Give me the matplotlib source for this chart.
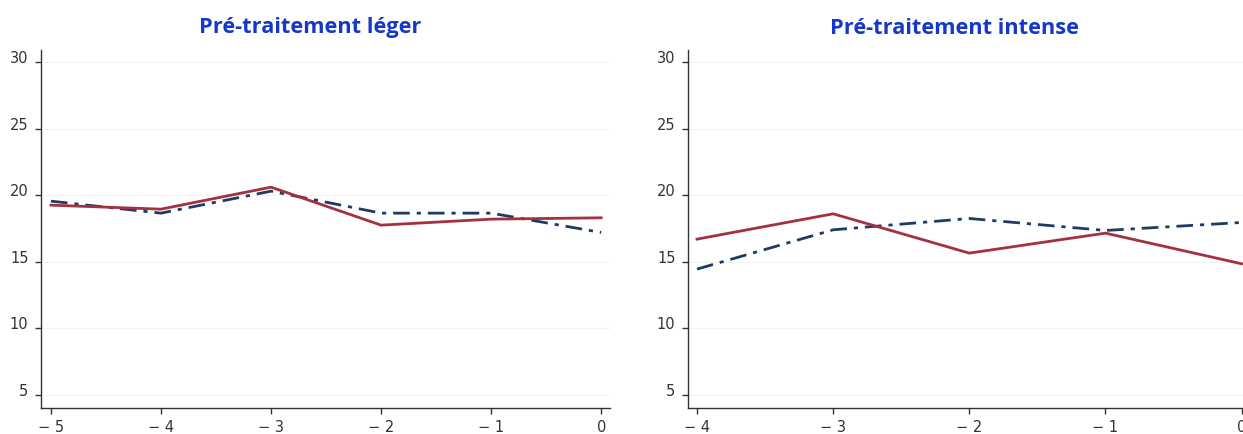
import matplotlib
matplotlib.use("Agg")
import matplotlib.pyplot as plt
from matplotlib.transforms import ScaledTranslation

x_leger = [-5, -4, -3, -2, -1, 0]
red_leger = [19.25, 18.95, 20.6, 17.75, 18.2, 18.3]
blue_leger = [19.55, 18.65, 20.3, 18.65, 18.65, 17.2]

x_intense = [-4, -3, -2, -1, 0]
red_intense = [16.7, 18.6, 15.65, 17.15, 14.85]
blue_intense = [14.45, 17.4, 18.25, 17.35, 17.95]

titles = ["Pré-traitement léger", "Pré-traitement intense"]
yticks = [5, 10, 15, 20, 25, 30]

RED = "#a3313f"
BLUE = "#1f3b63"
TITLE_BLUE = "#1538c8"

fig = plt.figure(figsize=(12.43, 4.34), dpi=100)
ax1 = fig.add_axes([41 / 1243, 0.0606, 569 / 1243, 0.8244])
ax2 = fig.add_axes([688 / 1243, 0.0606, 555 / 1243, 0.8244])


def style(ax, xs, xlim):
    ax.set_xlim(*xlim)
    ax.set_ylim(4.05, 30.9)
    for s in ["top", "right"]:
        ax.spines[s].set_visible(False)
    for s in ["left", "bottom"]:
        ax.spines[s].set_color("#333333")
        ax.spines[s].set_linewidth(1.0)
    ax.set_yticks(yticks)
    ax.set_yticklabels([str(v) for v in yticks])
    ax.set_xticks(xs)
    ax.set_xticklabels([("\u2212 " + str(-v)) if v < 0 else str(v) for v in xs])
    ax.tick_params(axis="both", length=4, width=1, color="#333333",
                   labelsize=10.5, labelcolor="#333333", pad=5)
    # y labels sit a little above their ticks in the reference
    shift = ScaledTranslation(0, 5 / 100, fig.dpi_scale_trans)
    for lab in ax.get_yticklabels():
        lab.set_transform(lab.get_transform() + shift)
    for v in yticks:
        ax.axhline(v, color="#f2f2f2", lw=0.8, zorder=0)


ax1.plot(x_leger, blue_leger, color=BLUE, lw=2, ls=(0, (6, 2.5, 1.5, 2.5)))
ax1.plot(x_leger, red_leger, color=RED, lw=2)
style(ax1, x_leger, (-5.09, 0.08))

ax2.plot(x_intense, blue_intense, color=BLUE, lw=2, ls=(0, (6, 2.5, 1.5, 2.5)))
ax2.plot(x_intense, red_intense, color=RED, lw=2)
style(ax2, x_intense, (-4.066, 0.01))

fig.text(310 / 1243, 1 - 28 / 434, titles[0], ha="center", va="center",
         fontsize=15.7, fontweight="bold", color=TITLE_BLUE, family="Open Sans")
fig.text(954 / 1243, 1 - 28 / 434, titles[1], ha="center", va="center",
         fontsize=15.7, fontweight="bold", color=TITLE_BLUE, family="Open Sans")

fig.savefig("out.png", dpi=100)
